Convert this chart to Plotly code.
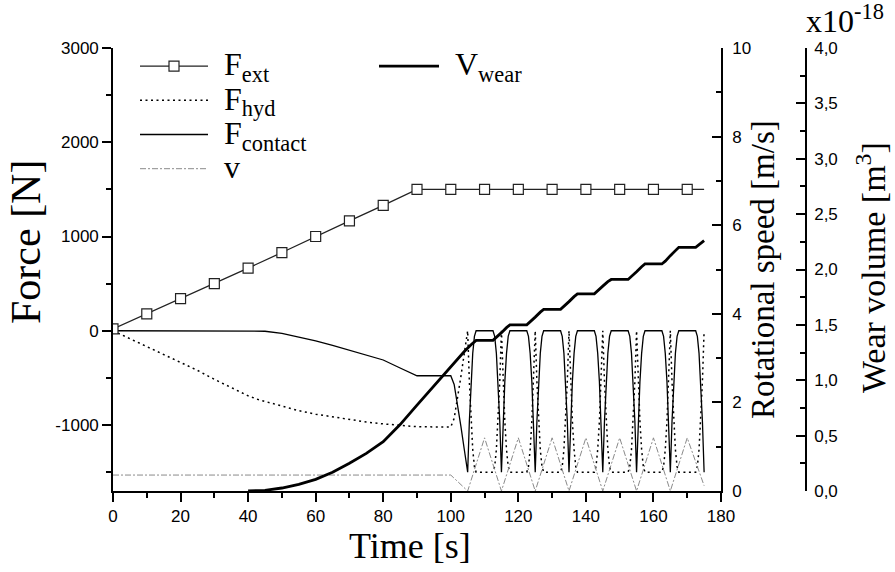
import plotly.graph_objects as go

# ---------------- data ----------------
t_ext = [0, 10, 20, 30, 40, 50, 60, 70, 80, 90, 100, 110, 120, 130, 140, 150, 160, 170, 175]
f_ext = [20, 180, 340, 500, 665, 830, 1000, 1165, 1330, 1500, 1500, 1500, 1500, 1500, 1500,
         1500, 1500, 1500, 1500]

t_force = [0, 5, 10, 15, 20, 25, 30, 35, 40, 43, 45, 50, 55, 60, 65, 70, 75, 80, 85, 90, 95, 100,
           101, 102, 103, 104, 105,
           105.5, 106, 106.5, 107, 107.5, 112.5, 113, 113.5, 114, 114.5, 115,
           115.5, 116, 116.5, 117, 117.5, 122.5, 123, 123.5, 124, 124.5, 125,
           125.5, 126, 126.5, 127, 127.5, 132.5, 133, 133.5, 134, 134.5, 135,
           135.5, 136, 136.5, 137, 137.5, 142.5, 143, 143.5, 144, 144.5, 145,
           145.5, 146, 146.5, 147, 147.5, 152.5, 153, 153.5, 154, 154.5, 155,
           155.5, 156, 156.5, 157, 157.5, 162.5, 163, 163.5, 164, 164.5, 165,
           165.5, 166, 166.5, 167, 167.5, 172.5, 173, 173.5, 174, 174.5, 175]

f_hyd = [0, -85, -170, -250, -335, -420, -515, -605, -690, -730, -750, -805, -848, -885, -915,
         -943, -968, -988, -1005, -1018, -1020, -1020,
         -930, -730, -485, -240, 0,
         -540, -960, -1260, -1440, -1500, -1500, -1440, -1260, -960, -540, 0,
         -540, -960, -1260, -1440, -1500, -1500, -1440, -1260, -960, -540, 0,
         -540, -960, -1260, -1440, -1500, -1500, -1440, -1260, -960, -540, 0,
         -540, -960, -1260, -1440, -1500, -1500, -1440, -1260, -960, -540, 0,
         -540, -960, -1260, -1440, -1500, -1500, -1440, -1260, -960, -540, 0,
         -540, -960, -1260, -1440, -1500, -1500, -1440, -1260, -960, -540, 0,
         -540, -960, -1260, -1440, -1500, -1500, -1440, -1260, -960, -540, 0]

f_contact = [0, 0, 0, 0, 0, 0, 0, 0, 0, 0, -5, -28, -65, -106, -155, -206, -258, -310, -395,
             -477, -477, -477,
             -570, -770, -1015, -1260, -1500,
             -960, -540, -240, -60, 0, 0, -60, -240, -540, -960, -1500,
             -960, -540, -240, -60, 0, 0, -60, -240, -540, -960, -1500,
             -960, -540, -240, -60, 0, 0, -60, -240, -540, -960, -1500,
             -960, -540, -240, -60, 0, 0, -60, -240, -540, -960, -1500,
             -960, -540, -240, -60, 0, 0, -60, -240, -540, -960, -1500,
             -960, -540, -240, -60, 0, 0, -60, -240, -540, -960, -1500,
             -960, -540, -240, -60, 0, 0, -60, -240, -540, -960, -1500]

t_v = [0, 100, 105, 110, 115, 120, 125, 130, 135, 140, 145, 150, 155, 160, 165, 170, 175]
v_speed = [0.36, 0.36, 0, 1.2, 0, 1.2, 0, 1.2, 0, 1.2, 0, 1.2, 0, 1.2, 0, 1.2, 0.12]

t_wear = [40, 45, 50, 55, 60, 65, 70, 75, 80, 85, 90, 95, 100, 102, 104, 106, 107.5,
          112.5, 113.5, 115, 116.5, 117.5,
          122.5, 123.5, 125, 126.5, 127.5,
          132.5, 133.5, 135, 136.5, 137.5,
          142.5, 143.5, 145, 146.5, 147.5,
          152.5, 153.5, 155, 156.5, 157.5,
          162.5, 163.5, 165, 166.5, 167.5,
          172.5, 173.5, 175]
v_wear = [0, 0.006, 0.027, 0.06, 0.105, 0.17, 0.25, 0.34, 0.445, 0.6, 0.776, 0.95, 1.12,
          1.19, 1.26, 1.32, 1.36,
          1.36, 1.385, 1.43, 1.475, 1.50,
          1.50, 1.525, 1.57, 1.615, 1.64,
          1.64, 1.665, 1.71, 1.755, 1.78,
          1.78, 1.805, 1.85, 1.89, 1.91,
          1.91, 1.935, 1.98, 2.025, 2.05,
          2.05, 2.075, 2.125, 2.175, 2.20,
          2.20, 2.225, 2.26]

force_tickvals = [-1000, 0, 1000, 2000, 3000]
force_ticktext = ["-1000", "0", "1000", "2000", "3000"]
wear_tickvals = [0, 0.5, 1.0, 1.5, 2.0, 2.5, 3.0, 3.5, 4.0]
wear_ticktext = ["0,0", "0,5", "1,0", "1,5", "2,0", "2,5", "3,0", "3,5", "4,0"]
wear_minorvals = [0.25, 0.75, 1.25, 1.75, 2.25, 2.75, 3.25, 3.75]

# ---------------- layout geometry ----------------
W, H = 895, 572
L, R, T, B = 113, 89, 48, 81
PW, PH = W - L - R, H - T - B


def px(x):
    return (x - L) / PW


def py(y):
    return (H - B - y) / PH


SANS = "Liberation Sans, Arial, sans-serif"
SERIF = "Liberation Serif, Times New Roman, serif"
BLACK = "black"
GAP = "<span style='font-size:22px'>&nbsp;&nbsp;</span>"


def leg(main, sub=None):
    if sub is None:
        return "%s<span style='font-size:32px'>%s</span>" % (GAP, main)
    return "%s<span style='font-size:32px'>%s<sub>%s</sub></span>" % (GAP, main, sub)


fig = go.Figure()

fig.add_trace(go.Scatter(
    x=t_v, y=v_speed, yaxis="y2", mode="lines", name=leg("v"),
    line=dict(color="#8a8a8a", width=1, dash="6px,2px,2px,2px"), legendrank=4, legend="legend"))
fig.add_trace(go.Scatter(
    x=t_force, y=f_hyd, mode="lines", name=leg("F", "hyd"),
    line=dict(color=BLACK, width=1.5, dash="2px,3.5px"), legendrank=2, legend="legend"))
fig.add_trace(go.Scatter(
    x=t_force, y=f_contact, mode="lines", name=leg("F", "contact"),
    line=dict(color=BLACK, width=1.3), legendrank=3, legend="legend"))
fig.add_trace(go.Scatter(
    x=t_wear, y=v_wear, yaxis="y3", mode="lines", name=leg("V", "wear"),
    line=dict(color=BLACK, width=2.8), legend="legend2"))
fig.add_trace(go.Scatter(
    x=t_ext[-2:], y=f_ext[-2:], mode="lines", showlegend=False,
    line=dict(color="#222222", width=1.3)))
fig.add_trace(go.Scatter(
    x=t_ext[:-1], y=f_ext[:-1], mode="lines+markers", name=leg("F", "ext"),
    line=dict(color="#222222", width=1.3),
    marker=dict(symbol="square", size=10, color="white", line=dict(color="#222222", width=1.2)),
    legendrank=1, legend="legend"))

tickfont = dict(family=SANS, size=17, color=BLACK)
common = dict(showline=True, linecolor=BLACK, linewidth=1.6, showgrid=False, zeroline=False,
              tickcolor=BLACK, tickwidth=1.6, ticklen=9, tickfont=tickfont)

fig.update_layout(
    width=W, height=H,
    margin=dict(l=L, r=R, t=T, b=B, pad=0),
    paper_bgcolor="white", plot_bgcolor="white",
    xaxis=dict(domain=[0, px(721)], range=[0, 180], dtick=20, tick0=0, ticks="outside",
               anchor="y",
               minor=dict(dtick=10, tick0=0, ticks="outside", ticklen=5, tickwidth=1.6,
                          tickcolor=BLACK, showgrid=False),
               **common),
    yaxis=dict(range=[-1700, 3000], tickmode="array", tickvals=force_tickvals,
               ticktext=force_ticktext, ticks="outside",
               minor=dict(dtick=500, tick0=0, ticks="outside", ticklen=5, tickwidth=1.6,
                          tickcolor=BLACK, showgrid=False),
               **common),
    yaxis2=dict(overlaying="y", side="right", anchor="x", range=[0, 10], dtick=2, tick0=0,
                ticks="inside", ticklabelstandoff=6,
                minor=dict(dtick=1, tick0=0, ticks="inside", ticklen=5, tickwidth=1.6,
                           tickcolor=BLACK, showgrid=False),
                **common),
    yaxis3=dict(overlaying="y", side="right", anchor="free", position=1.0, range=[0, 4],
                tickmode="array", tickvals=wear_tickvals, ticktext=wear_ticktext,
                ticks="inside", ticklabelstandoff=4,
                minor=dict(tickmode="array", tickvals=wear_minorvals, ticks="inside",
                           ticklen=5, tickwidth=1.6, tickcolor=BLACK, showgrid=False),
                **common),
    legend=dict(x=px(135), y=py(44), xanchor="left", yanchor="top",
                bgcolor="rgba(0,0,0,0)", borderwidth=0, itemwidth=68,
                font=dict(family=SERIF, size=24, color=BLACK), traceorder="normal"),
    legend2=dict(x=px(374), y=py(44), xanchor="left", yanchor="top",
                 bgcolor="rgba(0,0,0,0)", borderwidth=0, itemwidth=60,
                 font=dict(family=SERIF, size=24, color=BLACK)),
    showlegend=True,
)

fig.add_annotation(text="Force [N]", x=px(26), y=py(242), xref="paper", yref="paper",
                   textangle=-90, showarrow=False,
                   font=dict(family=SERIF, size=42, color=BLACK),
                   xanchor="center", yanchor="middle")
fig.add_annotation(text="Time [s]", x=px(410), y=py(546), xref="paper", yref="paper",
                   showarrow=False, font=dict(family=SERIF, size=36, color=BLACK),
                   xanchor="center", yanchor="middle")
fig.add_annotation(text="Rotational speed [m/s]", x=px(763), y=py(270), xref="paper",
                   yref="paper", textangle=-90, showarrow=False,
                   font=dict(family=SERIF, size=33, color=BLACK),
                   xanchor="center", yanchor="middle")
fig.add_annotation(text="Wear volume [m<sup>3</sup>]", x=px(871), y=py(268), xref="paper",
                   yref="paper", textangle=-90, showarrow=False,
                   font=dict(family=SERIF, size=34, color=BLACK),
                   xanchor="center", yanchor="middle")
fig.add_annotation(text="x10<sup>-18</sup>", x=px(804), y=py(41), xref="paper", yref="paper",
                   showarrow=False, font=dict(family=SERIF, size=32, color=BLACK),
                   xanchor="left", yanchor="bottom")

fig.write_html("out.html", config={"displayModeBar": False},
               post_script="document.body.style.margin='0px';")
